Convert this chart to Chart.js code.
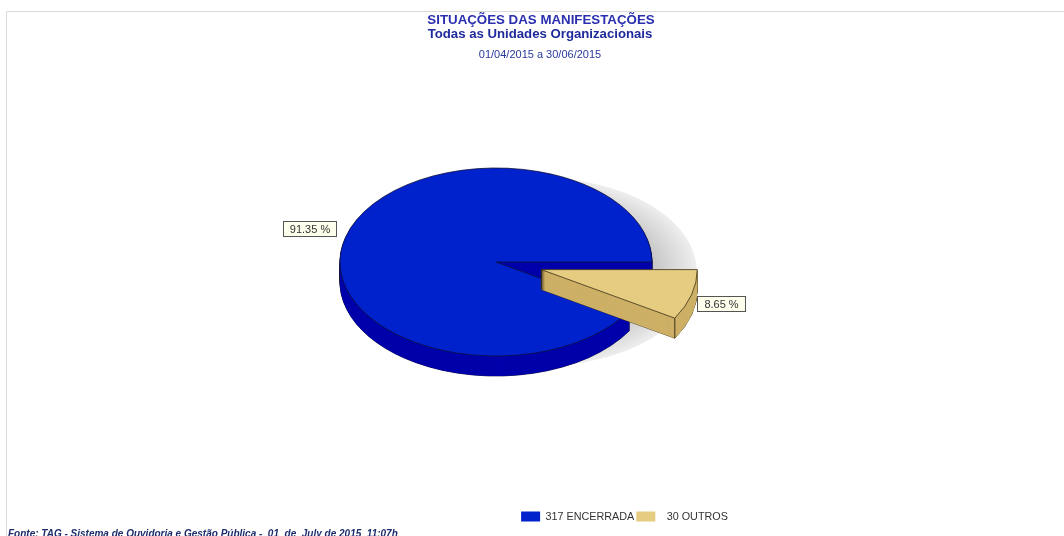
<!DOCTYPE html>
<html>
<head>
<meta charset="utf-8">
<title>Situações das manifestações</title>
<script src="https://cdn.jsdelivr.net/npm/chart.js@4"></script>
<style>
  html, body { margin: 0; padding: 0; background: #fff; overflow: hidden; }
  canvas { display: block; }
</style>
</head>
<body>
<canvas id="chart" width="1064" height="536"></canvas>
<script>
const categories = ['ENCERRADA', 'OUTROS'];
const counts = [317, 30];
const topColors = ['#0022cc', '#e6cc80'];
const sideColors = ['#0000aa', '#cdb066'];
const titleLines = ['SITUAÇÕES DAS MANIFESTAÇÕES', 'Todas as Unidades Organizacionais', '01/04/2015 a 30/06/2015'];
const footerText = 'Fonte: TAG - Sistema de Ouvidoria e Gestão Pública -  01  de  July de 2015  11:07h';

const total = counts.reduce((a, b) => a + b, 0);
const pct = counts.map(c => (c / total * 100).toFixed(2) + ' %');

const PIE = { x: 496, y: 262, r: 156, squash: 0.6026, depth: 20, explode: 47, exploded: 1 };
const FONT = '"Liberation Sans", Arial, sans-serif';

function placeArc(ctx, arc, i, d) {
    const mid = (arc.startAngle + arc.endAngle) / 2;
    const e = i === PIE.exploded ? PIE.explode : 0;
    ctx.translate(PIE.x + Math.cos(mid) * e, PIE.y + d + Math.sin(mid) * e * PIE.squash);
    ctx.scale(1, PIE.squash);
    ctx.translate(-arc.x, -arc.y);
}

function drawArcAs(ctx, arc, i, d, over) {
    const base = arc.options;
    arc.options = { ...base, ...over };
    ctx.save();
    placeArc(ctx, arc, i, d);
    arc.draw(ctx);
    ctx.restore();
    arc.options = base;
}

const pie3d = {
    id: 'pie3d',
    beforeDraw(chart) {
        const ctx = chart.ctx;
        ctx.save();
        ctx.fillStyle = '#fff';
        ctx.fillRect(0, 0, chart.width, chart.height);
        ctx.strokeStyle = '#d9d9d9';
        ctx.lineWidth = 1;
        ctx.beginPath();
        ctx.moveTo(6.5, chart.height);
        ctx.lineTo(6.5, 11.5);
        ctx.lineTo(chart.width, 11.5);
        ctx.stroke();

        ctx.textAlign = 'center';
        ctx.textBaseline = 'alphabetic';
        ctx.fillStyle = '#2a2fb0';
        ctx.font = 'bold 13.3px ' + FONT;
        ctx.fillText(titleLines[0], 541, 24);
        ctx.fillStyle = '#1f2a9c';
        ctx.font = 'bold 13.2px ' + FONT;
        ctx.fillText(titleLines[1], 540, 38);
        ctx.fillStyle = '#2a3a9c';
        ctx.font = '11px ' + FONT;
        ctx.fillText(titleLines[2], 540, 58);

        ctx.textAlign = 'left';
        ctx.fillStyle = '#1c2c6c';
        ctx.font = 'italic bold 10px ' + FONT;
        ctx.fillText(footerText, 8, 537);
        ctx.restore();
    },
    beforeDatasetDraw(chart) {
        const ctx = chart.ctx;
        const arcs = chart.getDatasetMeta(0).data;

        // soft shadow behind the pie
        ctx.save();
        ctx.translate(PIE.x + 45, PIE.y + 10);
        ctx.scale(1, PIE.squash);
        const g = ctx.createRadialGradient(0, 0, PIE.r * 0.68, 0, 0, PIE.r);
        g.addColorStop(0, '#c0c0c0');
        g.addColorStop(1, '#eeeeee');
        ctx.fillStyle = g;
        ctx.beginPath();
        ctx.arc(0, 0, PIE.r, 0, Math.PI * 2);
        ctx.fill();
        ctx.restore();

        arcs.forEach((arc, i) => {
            // outline the extruded wall, then fill over everything but the silhouette
            for (let d = PIE.depth; d > 0; d--) drawArcAs(ctx, arc, i, d, { backgroundColor: sideColors[i] });
            for (let d = PIE.depth; d > 0; d--) drawArcAs(ctx, arc, i, d, { backgroundColor: sideColors[i], borderWidth: 0 });
            drawArcAs(ctx, arc, i, 0, {});

            if (i === PIE.exploded) {
                const pts = [[0, 0], [Math.cos(arc.endAngle) * PIE.r, Math.sin(arc.endAngle) * PIE.r * PIE.squash]];
                const mid = (arc.startAngle + arc.endAngle) / 2;
                ctx.save();
                ctx.strokeStyle = '#3a3018';
                ctx.lineWidth = 1;
                pts.forEach(p => {
                    const px = PIE.x + Math.cos(mid) * PIE.explode + p[0];
                    const py = PIE.y + Math.sin(mid) * PIE.explode * PIE.squash + p[1];
                    ctx.beginPath();
                    ctx.moveTo(px, py);
                    ctx.lineTo(px, py + PIE.depth);
                    ctx.stroke();
                });
                ctx.restore();
            }
        });
        return false;
    },
    afterDatasetsDraw(chart) {
        const ctx = chart.ctx;
        const boxes = [[283, 221, 53, 15], [697, 296, 48, 15]];
        ctx.save();
        ctx.font = '11px ' + FONT;
        ctx.textAlign = 'center';
        ctx.textBaseline = 'middle';
        pct.forEach((t, i) => {
            const b = boxes[i];
            ctx.fillStyle = '#ffffee';
            ctx.strokeStyle = '#555';
            ctx.lineWidth = 1;
            ctx.fillRect(b[0] + 0.5, b[1] + 0.5, b[2], b[3]);
            ctx.strokeRect(b[0] + 0.5, b[1] + 0.5, b[2], b[3]);
            ctx.fillStyle = '#333';
            ctx.fillText(t, b[0] + b[2] / 2 + 0.5, b[1] + b[3] / 2 + 1);
        });
        ctx.restore();
    }
};

new Chart(document.getElementById('chart'), {
    type: 'pie',
    plugins: [pie3d],
    data: {
        labels: categories.map((c, i) => (i ? '  ' : '') + counts[i] + ' ' + c),
        datasets: [{
            data: counts,
            backgroundColor: topColors,
            borderColor: ['#101040', '#3a3018'],
            borderWidth: 1
        }]
    },
    options: {
        responsive: false,
        animation: false,
        devicePixelRatio: 1,
        rotation: 90 + 360 * counts[1] / total,
        radius: PIE.r,
        layout: { padding: { left: 185, bottom: 4 } },
        plugins: {
            tooltip: { enabled: false },
            legend: {
                position: 'bottom',
                labels: {
                    boxWidth: 19,
                    boxHeight: 10,
                    padding: 2,
                    color: '#333',
                    font: { family: FONT, size: 10.8 },
                    generateLabels(chart) {
                        return Chart.overrides.pie.plugins.legend.labels.generateLabels(chart).map(l => ({ ...l, lineWidth: 0 }));
                    }
                }
            }
        }
    }
});
</script>
</body>
</html>
